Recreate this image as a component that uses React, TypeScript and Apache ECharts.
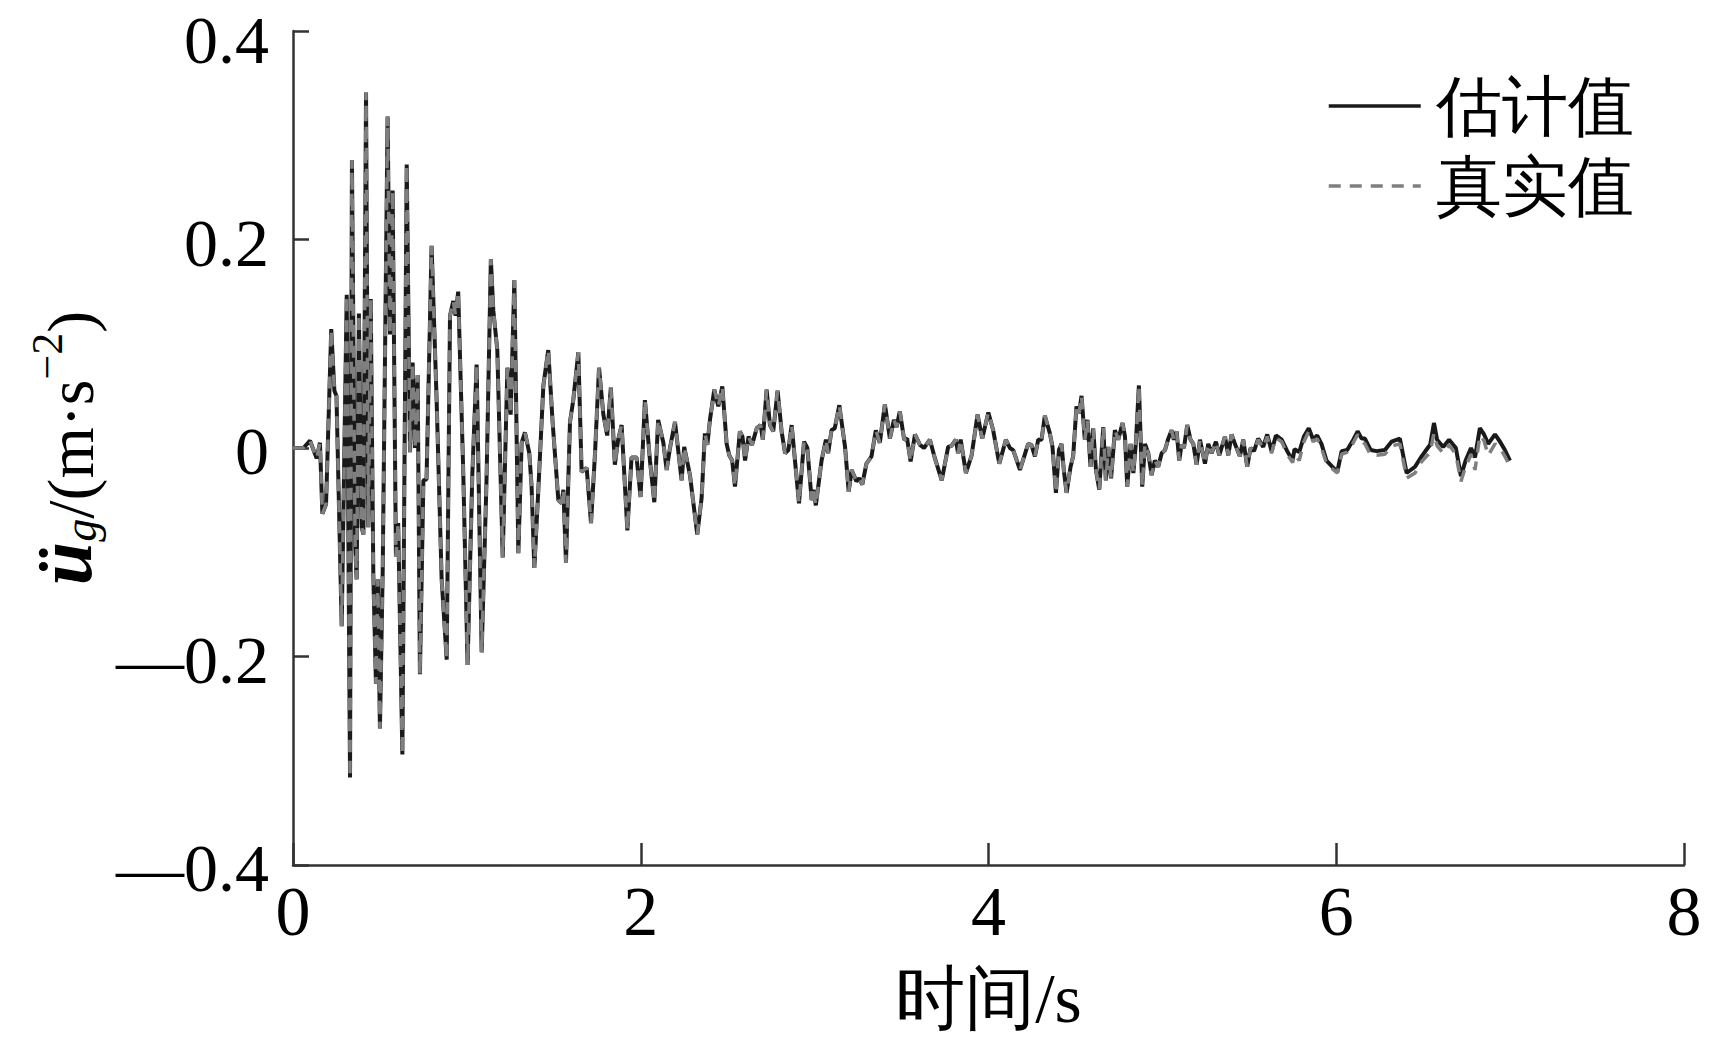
import React, { useEffect, useRef } from "react";
import * as echarts from "echarts";

// Shared part of both curves (estimate and true value overlap here): [time s, accel m/s^2]
const commonTime = [
  0, 0.06, 0.098, 0.136, 0.155, 0.169, 0.19, 0.22, 0.238, 0.25, 0.28, 0.309, 0.328, 0.339, 0.357, 0.366, 0.379, 0.395,
  0.405, 0.42, 0.433, 0.447, 0.462, 0.477, 0.488, 0.5, 0.516, 0.544, 0.558, 0.573, 0.592, 0.605, 0.629, 0.654, 0.673,
  0.688, 0.702, 0.717, 0.73, 0.75, 0.768, 0.797, 0.826, 0.855, 0.884, 0.903, 0.922, 0.935, 0.95, 0.979, 1.004, 1.031,
  1.056, 1.085, 1.113, 1.138, 1.152, 1.175, 1.206, 1.233, 1.252, 1.273, 1.296, 1.315, 1.334, 1.359, 1.372, 1.388, 1.411,
  1.44, 1.468, 1.493, 1.526, 1.545, 1.555, 1.57, 1.593, 1.612, 1.641, 1.66, 1.689, 1.714, 1.737, 1.76, 1.785, 1.807,
  1.828, 1.851, 1.87, 1.89, 1.923, 1.947, 1.976, 1.999, 2.024, 2.053, 2.078, 2.1, 2.13, 2.149, 2.168, 2.197, 2.235, 2.25,
  2.283, 2.325, 2.35, 2.369, 2.383, 2.398, 2.423, 2.446, 2.469, 2.494, 2.509, 2.526, 2.542, 2.57, 2.585, 2.6, 2.62, 2.64,
  2.667, 2.69, 2.702, 2.724, 2.743, 2.762, 2.787, 2.81, 2.83, 2.849, 2.868, 2.887, 2.91, 2.939, 2.958, 2.983, 2.993,
  3.007, 3.04, 3.065, 3.078, 3.097, 3.116, 3.142, 3.175, 3.196, 3.213, 3.24, 3.256, 3.274, 3.298, 3.327, 3.352, 3.375,
  3.404, 3.433, 3.456, 3.471, 3.49, 3.515, 3.532, 3.552, 3.577, 3.606, 3.629, 3.663, 3.692, 3.731, 3.768, 3.787, 3.812,
  3.825, 3.84, 3.87, 3.903, 3.937, 3.964, 3.999, 4.027, 4.062, 4.1, 4.123, 4.142, 4.181, 4.228, 4.247, 4.267, 4.286,
  4.305, 4.324, 4.353, 4.368, 4.388, 4.405, 4.42, 4.433, 4.449, 4.472, 4.487, 4.506, 4.521, 4.535, 4.554, 4.569, 4.587,
  4.602, 4.618, 4.637, 4.66, 4.675, 4.689, 4.705, 4.727, 4.746, 4.771, 4.785, 4.798, 4.817, 4.833, 4.848, 4.865, 4.884,
  4.9, 4.919, 4.938, 4.957, 4.976, 4.996, 5.015, 5.034, 5.053, 5.066, 5.082, 5.097, 5.11, 5.124, 5.143, 5.162, 5.178,
  5.197, 5.216, 5.245, 5.264, 5.283, 5.308, 5.327, 5.36, 5.379, 5.398, 5.417, 5.446, 5.465, 5.488, 5.507, 5.527,
];
const commonValue = [
  0, 0, 0.007, -0.01, 0.005, -0.063, -0.054, 0.114, 0.055, 0.05, -0.171, 0.147, -0.316, 0.276, -0.09, -0.126, 0.129,
  -0.076, -0.083, 0.341, -0.076, 0.143, -0.122, -0.226, -0.126, -0.269, -0.117, 0.318, 0.109, 0.247, -0.104, -0.072,
  -0.294, 0.272, -0.004, 0.082, 0.0, 0.07, -0.217, -0.031, -0.03, 0.194, 0.046, -0.126, -0.203, 0.127, 0.141, 0.127,
  0.15, -0.022, -0.208, -0.027, 0.08, -0.196, -0.031, 0.181, 0.132, 0.094, -0.105, 0.077, 0.032, 0.161, -0.101, 0.005,
  0.015, -0.005, -0.036, -0.115, -0.04, 0.06, 0.094, 0.025, -0.05, -0.053, -0.04, -0.11, 0.025, 0.046, 0.092, -0.023,
  -0.019, -0.072, -0.005, 0.077, 0.032, 0.012, 0.058, -0.016, 0.008, 0.022, -0.079, -0.009, -0.009, -0.047, 0.046,
  -0.012, -0.052, 0.027, 0.005, -0.021, 0, 0.025, -0.031, 0.001, -0.026, -0.083, -0.048, 0.014, 0.003, 0.027, 0.056,
  0.04, 0.059, 0.004, -0.007, -0.012, -0.037, 0.016, 0.011, -0.012, 0.011, 0.003, 0.019, 0.022, 0.008, 0.056, 0.022,
  0.016, 0.055, 0.016, -0.005, -0.002, 0.022, -0.012, -0.053, 0.006, 0, -0.05, -0.04, -0.055, -0.012, 0.008, -0.005,
  0.017, 0.019, 0.041, 0.001, -0.042, -0.021, -0.032, -0.029, -0.035, -0.015, -0.008, 0.017, 0.005, 0.042, 0.009,
  0.027, 0.02, 0.035, 0.008, 0.009, -0.013, 0.013, 0.003, 0, 0.008, -0.01, -0.031, 0.001, 0.002, 0.008, -0.005, 0.008,
  -0.024, -0.007, 0.032, 0.009, 0.034, 0.017, -0.015, 0.008, 0, -0.002, -0.021, 0.004, 0.003, -0.008, 0.008, 0.008,
  0.031, 0.014, 0.001, -0.043, -0.002, 0.004, -0.021, -0.043, -0.018, -0.008, 0.04, 0.033, 0.05, 0.008, 0.027, -0.018,
  0.019, -0.021, -0.04, 0.02, -0.031, 0.001, -0.029, 0.017, 0.008, 0.024, 0.011, -0.037, 0.004, -0.024, 0.006, 0.06,
  -0.037, 0.004, -0.005, -0.026, -0.012, -0.018, -0.005, -0.002, 0.009, 0.017, 0.008, 0.016, -0.012, 0.003, 0, 0.022,
  0.008, 0.004, -0.016, 0.008, -0.015, 0.004, -0.005, 0.006, -0.007, 0.011, -0.007, 0.013, 0.004, -0.008, 0.008,
  -0.018, 0, -0.003,
];

// Last part, where the two curves separate slightly
const tailTime = [
  5.551, 5.58, 5.603, 5.628, 5.653, 5.686, 5.718, 5.749, 5.76, 5.787, 5.814, 5.842, 5.867, 5.89, 5.915, 5.944, 5.978,
  6.006, 6.031, 6.063, 6.098, 6.123, 6.146, 6.165, 6.198, 6.232, 6.28, 6.318, 6.366, 6.405, 6.453, 6.491, 6.53, 6.54,
  6.562, 6.58, 6.615, 6.649, 6.688, 6.717, 6.744, 6.775, 6.798, 6.826, 6.85, 6.874, 6.913, 6.942, 6.97, 6.999,
];
const estimateTail = [
  0.009, 0.001, 0.013, -0.003, 0.012, 0.008, -0.003, -0.012, -0.001, -0.004, 0.011, 0.019, 0.008, 0.012, 0.004, -0.012,
  -0.018, -0.023, -0.003, -0.002, 0.008, 0.016, 0.009, 0.009, -0.002, -0.003, -0.002, 0.006, 0.009, -0.024, -0.018,
  -0.008, 0.001, 0.003, 0.024, 0.008, 0.001, 0.008, 0, -0.027, -0.012, 0, -0.009, 0.019, 0.013, 0.004, 0.013, 0.006,
  -0.002, -0.012,
];
const trueTail = [
  0.008, 0.0, 0.011, -0.005, 0.01, 0.006, -0.006, -0.014, -0.006, -0.012, 0.006, 0.016, 0.006, 0.009, 0.0, -0.015,
  -0.02, -0.024, -0.006, -0.004, 0.005, 0.013, 0.006, 0.004, -0.007, -0.007, -0.006, 0.002, 0.004, -0.029, -0.024,
  -0.013, -0.006, -0.004, 0.014, 0.002, -0.005, 0.003, -0.006, -0.032, -0.018, -0.006, -0.021, 0.012, 0.007, -0.007,
  0.004, 0.0, -0.008, -0.018,
];

const xTicks = [0, 2, 4, 6, 8];
const yTicks = [-0.4, -0.2, 0, 0.2, 0.4];
const seriesNames = ["估计值", "真实值"];

const SERIF = "Liberation Serif";

function pairs(t: number[], v: number[]) {
  return t.map((x, i) => [x, v[i]]);
}

export default function App() {
  const ref = useRef<HTMLDivElement>(null);
  useEffect(() => {
    if (!ref.current) return;
    const chart = echarts.init(ref.current, undefined, { renderer: "svg" });
    const estData = pairs(commonTime, commonValue).concat(pairs(tailTime, estimateTail));
    const trueData = pairs(commonTime, commonValue).concat(pairs(tailTime, trueTail));
    const yMax = yTicks[yTicks.length - 1];
    chart.setOption({
      animation: false,
      backgroundColor: "#ffffff",
      grid: { left: 293, right: 25, top: 31, bottom: 194, containLabel: false, outerBoundsMode: "none" },
      legend: {
        orient: "vertical",
        left: 1322,
        top: 66,
        itemWidth: 92,
        itemHeight: 16,
        itemGap: 10,
        data: seriesNames,
        itemStyle: { opacity: 0 },
        lineStyle: { width: 3.5 },
        textStyle: { fontSize: 66, color: "#000", fontFamily: SERIF, lineHeight: 70, padding: [0, 0, 0, 10] },
      },
      xAxis: {
        type: "value",
        min: xTicks[0],
        max: xTicks[xTicks.length - 1],
        interval: 2,
        name: "时间/s",
        nameLocation: "middle",
        nameGap: 98,
        nameTextStyle: { fontSize: 70, color: "#000", fontFamily: SERIF },
        axisLine: { show: true, onZero: false, lineStyle: { color: "#333", width: 2.5 } },
        axisTick: { show: true, inside: true, length: 22, lineStyle: { color: "#333", width: 2.5 } },
        axisLabel: { fontSize: 70, lineHeight: 60, color: "#000", fontFamily: SERIF, margin: 16, showMinLabel: true, showMaxLabel: true },
        splitLine: { show: false },
      },
      yAxis: {
        type: "value",
        min: yTicks[0],
        max: yMax,
        interval: 0.2,
        name: "{u|ü}{g|g}{n|/(m·s}{sup|−2}{n|)}",
        nameLocation: "middle",
        nameRotate: 90,
        nameGap: 190,
        nameTextStyle: {
          fontSize: 66,
          color: "#000",
          fontFamily: SERIF,
          rich: {
            u: { fontSize: 78, fontStyle: "italic", fontWeight: "bold", fontFamily: SERIF, color: "#000", verticalAlign: "bottom", lineHeight: 78 },
            g: { fontSize: 46, fontStyle: "italic", fontFamily: SERIF, color: "#000", verticalAlign: "bottom", lineHeight: 78 },
            n: { fontSize: 66, fontFamily: SERIF, color: "#000", verticalAlign: "bottom", lineHeight: 78 },
            sup: { fontSize: 44, fontFamily: SERIF, color: "#000", verticalAlign: "top", lineHeight: 78 },
          },
        },
        axisLine: { show: true, onZero: false, lineStyle: { color: "#333", width: 2.5 } },
        axisTick: { show: true, inside: true, length: 16, lineStyle: { color: "#333", width: 2.5 } },
        axisLabel: {
          fontSize: 68,
          lineHeight: 52,
          padding: [6, 0, 0, 0],
          color: "#000",
          fontFamily: SERIF,
          margin: 24,
          showMinLabel: true,
          showMaxLabel: true,
          formatter: (v: number) => {
            if (Math.abs(v) < 1e-9) return "0";
            if (Math.abs(v - yMax) < 1e-9) return "{top|" + v.toFixed(1) + "}";
            return v < 0 ? "—" + Math.abs(v).toFixed(1) : v.toFixed(1);
          },
          rich: {
            top: { fontSize: 68, lineHeight: 52, fontFamily: SERIF, color: "#000", padding: [12, 0, 0, 0] },
          },
        },
        splitLine: { show: false },
      },
      series: [
        {
          name: seriesNames[0],
          type: "line",
          data: estData,
          showSymbol: false,
          symbol: "none",
          lineStyle: { color: "#1a1a1a", width: 4, type: "solid" },
          itemStyle: { color: "#1a1a1a" },
        },
        {
          name: seriesNames[1],
          type: "line",
          data: trueData,
          showSymbol: false,
          symbol: "none",
          lineStyle: { color: "#7f7f7f", width: 3.5, type: [12, 9] },
          itemStyle: { color: "#7f7f7f" },
        },
      ],
    });
    return () => chart.dispose();
  }, []);
  return <div ref={ref} style={{ position: "absolute", left: 0, top: 0, width: 1709, height: 1059 }} />;
}
